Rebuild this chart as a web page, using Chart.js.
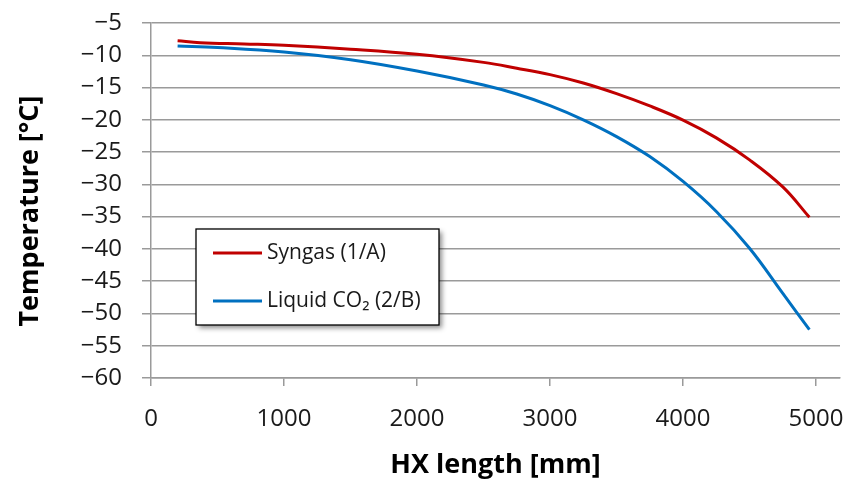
<!DOCTYPE html>
<html>
<head>
<meta charset="utf-8">
<script src="https://cdn.jsdelivr.net/npm/chart.js@4"></script>
<style>
  html, body { margin: 0; padding: 0; background: #fff; }
  #wrap { width: 847px; height: 486px; position: relative; }
</style>
</head>
<body>
<div id="wrap"><canvas id="c" width="847" height="486"></canvas></div>
<script>
// ---- data ----
const seriesNames = ['Syngas (1/A)', 'Liquid CO\u2082 (2/B)'];
const syngasX = [200, 370, 700, 1000, 1500, 2000, 2500, 2750, 3000, 3250, 3500, 3750, 4000, 4250, 4500, 4750, 4950];
const syngasY = [-7.75, -8.05, -8.25, -8.45, -9.05, -9.85, -11.1, -12.0, -13.0, -14.3, -15.95, -17.85, -20.05, -22.8, -26.2, -30.4, -35.1];
const co2X = [200, 500, 1000, 1500, 2000, 2500, 2750, 3000, 3250, 3500, 3750, 4000, 4250, 4500, 4750, 4950];
const co2Y = [-8.55, -8.8, -9.5, -10.7, -12.45, -14.6, -16.0, -17.8, -20.0, -22.6, -25.7, -29.55, -34.2, -39.9, -46.9, -52.5];
const xTicks = [0, 1000, 2000, 3000, 4000, 5000];
const yTicks = [-5, -10, -15, -20, -25, -30, -35, -40, -45, -50, -55, -60];
const xTitle = 'HX length [mm]';
const yTitle = 'Temperature [\u00B0C]';

const toPts = (xs, ys) => xs.map((x, i) => ({ x: x, y: ys[i] }));
const FONT = "'Open Sans', 'Noto Sans', sans-serif";
const GRID = '#9a9a9a';

const legendBox = {
  id: 'legendBox',
  afterDraw(chart) {
    const ctx = chart.ctx;
    const a = chart.chartArea;
    const x0 = a.left + 45, y0 = a.top + 206, w = 243, h = 96;
    ctx.save();
    ctx.shadowColor = 'rgba(0,0,0,0.45)';
    ctx.shadowBlur = 5;
    ctx.shadowOffsetX = 3;
    ctx.shadowOffsetY = 3;
    ctx.fillStyle = '#fff';
    ctx.fillRect(x0, y0, w, h);
    ctx.restore();
    ctx.save();
    ctx.strokeStyle = '#000';
    ctx.lineWidth = 1.3;
    ctx.strokeRect(x0, y0, w, h);
    ctx.font = '21px ' + FONT;
    ctx.textBaseline = 'middle';
    ctx.fillStyle = '#1a1a1a';
    chart.data.datasets.forEach((ds, i) => {
      const yy = y0 + 24 + i * 48;
      ctx.strokeStyle = ds.borderColor;
      ctx.lineWidth = 3;
      ctx.beginPath();
      ctx.moveTo(x0 + 17, yy);
      ctx.lineTo(x0 + 66, yy);
      ctx.stroke();
      ctx.fillText(ds.label, x0 + 71, yy);
    });
    ctx.restore();
  }
};

new Chart(document.getElementById('c'), {
  type: 'scatter',
  data: {
    datasets: [
      { label: seriesNames[0], data: toPts(syngasX, syngasY), borderColor: '#C00000', backgroundColor: '#C00000',
        showLine: true, borderWidth: 3, pointRadius: 0, tension: 0.4 },
      { label: seriesNames[1], data: toPts(co2X, co2Y), borderColor: '#0070C0', backgroundColor: '#0070C0',
        showLine: true, borderWidth: 3, pointRadius: 0, tension: 0.4 }
    ]
  },
  options: {
    responsive: false,
    animation: false,
    layout: { padding: { top: 23, right: 7, left: 0, bottom: 0 } },
    plugins: { legend: { display: false }, tooltip: { enabled: false } },
    scales: {
      x: {
        type: 'linear', min: 0, max: 5180,
        afterBuildTicks: s => { s.ticks = xTicks.map(v => ({ value: v })); },
        afterFit: s => { s.height = 108; s.paddingLeft = 0; s.paddingRight = 0; },
        grid: { drawOnChartArea: false, drawTicks: true, tickLength: 8, color: GRID, lineWidth: 1.5 },
        border: { display: true, color: GRID, width: 1.5 },
        ticks: { font: { family: FONT, size: 24 }, color: '#1a1a1a', padding: 19, maxRotation: 0, autoSkip: false,
                 callback: v => String(v) },
        title: { display: true, text: xTitle, font: { family: FONT, size: 27, weight: 'bold' }, color: '#000', padding: { top: 0, bottom: 4 } }
      },
      y: {
        type: 'linear', min: -60, max: -5,
        afterBuildTicks: s => { s.ticks = yTicks.slice().reverse().map(v => ({ value: v })); },
        afterFit: s => { s.width = 151; s.paddingTop = 0; s.paddingBottom = 0; },
        grid: { drawOnChartArea: true, drawTicks: true, tickLength: 9, color: GRID, lineWidth: 1.5 },
        border: { display: true, color: GRID, width: 1.5 },
        ticks: { font: { family: FONT, size: 24 }, color: '#1a1a1a', padding: 20, autoSkip: false,
                 callback: v => String(v).replace('-', '\u2212') },
        title: { display: true, text: yTitle + '   ', font: { family: FONT, size: 27, weight: 'bold' }, color: '#000', padding: { top: 14, bottom: 0 } }
      }
    }
  },
  plugins: [legendBox]
});
</script>
</body>
</html>
